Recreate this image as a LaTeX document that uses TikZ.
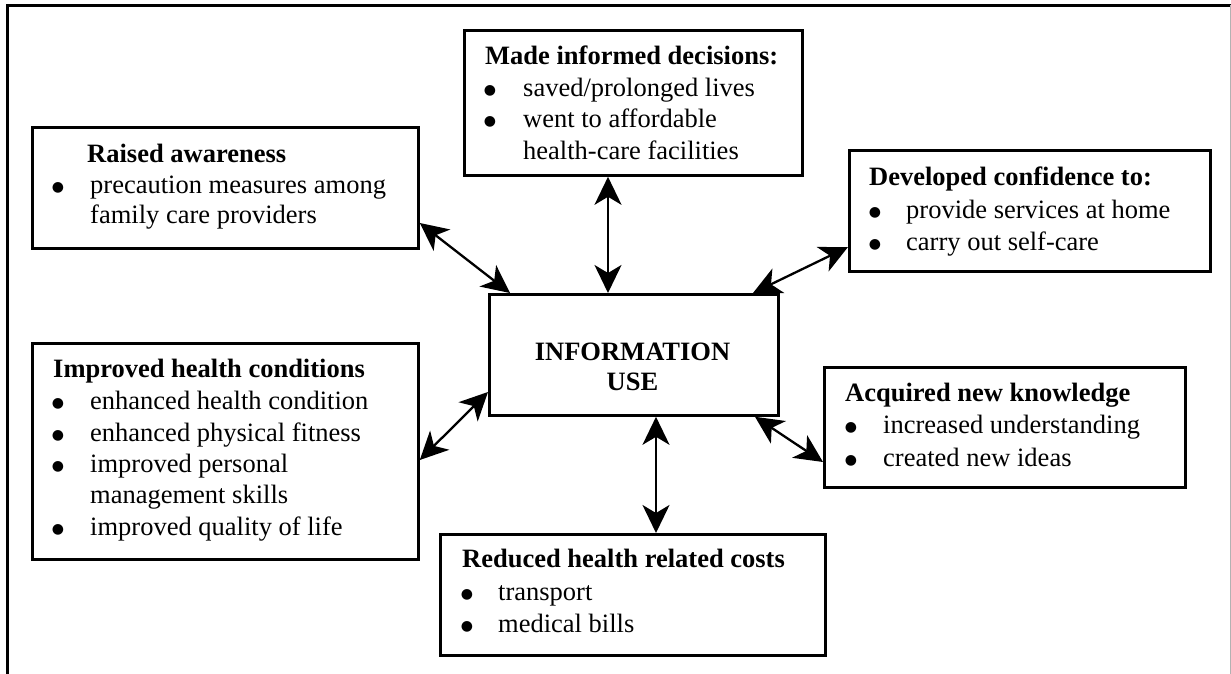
\documentclass[tikz,border=0pt]{standalone}
\usepackage{fontspec}
\setmainfont{Liberation Serif}
\newfontfamily\dejavu{DejaVu Sans}
\usetikzlibrary{arrows.meta,calc}
\newcommand{\bigbul}{{\dejavu\fontsize{14}{16}\selectfont ●}}
\begin{document}
\begin{tikzpicture}[x=1pt,y=-1pt,
  box/.style={draw,line width=2.8pt,inner sep=0pt,anchor=north west},
  tipx/.tip={Stealth[length=28pt,width=27pt,inset=8pt]},
  conn/.style={line width=2.3pt,tipx-tipx},
  txt/.style={anchor=base west,inner sep=0pt,font=\fontsize{26.5}{31}\selectfont},
  hd/.style={anchor=base west,inner sep=0pt,font=\fontsize{26.5}{31}\selectfont\bfseries},
  hdc/.style={anchor=base,inner sep=0pt,font=\fontsize{26.5}{31}\selectfont\bfseries},
  bul/.style={anchor=base,inner sep=0pt,yshift=2pt}]
\useasboundingbox (0,0) rectangle (1231,674);
% outer frame
\draw[line width=2.2pt] (7.5,674) -- (7.5,5.5) -- (1231,5.5);
\draw[line width=1pt,black!30] (1230,5.5) -- (1230,674);

% boxes
\node[box,minimum width=386,minimum height=121] (ra) at (31,126) {};
\node[box,minimum width=338,minimum height=145] (mi) at (463,29) {};
\node[box,minimum width=361,minimum height=121] (dc) at (848,149) {};
\node[box,minimum width=289,minimum height=121] (iu) at (488,293) {};
\node[box,minimum width=386,minimum height=216] (ih) at (31,342) {};
\node[box,minimum width=361,minimum height=120] (an) at (823,366) {};
\node[box,minimum width=385,minimum height=121] (rc) at (439,533) {};

% Raised awareness
\node[hd] (raT) at (87,162) {Raised awareness};
\node[bul] (raB1) at (58,193) {\bigbul};
\node[txt] (raL1) at (90,193) {precaution measures among};
\node[txt] (raL2) at (90,223) {family care providers};

% Made informed decisions
\node[hd] (miT) at (485,65) {Made informed decisions:};
\node[bul] (miB1) at (490,97) {\bigbul};
\node[bul] (miB2) at (490,128) {\bigbul};
\node[txt] (miL1) at (523,97) {saved/prolonged lives};
\node[txt] (miL2) at (523,128) {went to affordable};
\node[txt] (miL3) at (523,159) {health-care facilities};

% Developed confidence
\node[hd] (dcT) at (869,185) {Developed confidence to:};
\node[bul] (dcB1) at (875,218) {\bigbul};
\node[bul] (dcB2) at (875,250) {\bigbul};
\node[txt] (dcL1) at (906,218) {provide services at home};
\node[txt] (dcL2) at (906,250) {carry out self-care};

% Information use
\node[hdc] (iuT1) at (632.5,360) {INFORMATION};
\node[hdc] (iuT2) at (632.5,390) {USE};

% Improved health conditions
\node[hd] (ihT) at (53,377) {Improved health conditions};
\node[bul] (ihB1) at (58,409) {\bigbul};
\node[bul] (ihB2) at (58,441) {\bigbul};
\node[bul] (ihB3) at (58,472) {\bigbul};
\node[bul] (ihB4) at (58,535) {\bigbul};
\node[txt] (ihL1) at (90,409) {enhanced health condition};
\node[txt] (ihL2) at (90,441) {enhanced physical fitness};
\node[txt] (ihL3) at (90,472) {improved personal};
\node[txt] (ihL4) at (90,503) {management skills};
\node[txt] (ihL5) at (90,535) {improved quality of life};

% Acquired new knowledge
\node[hd] (anT) at (845,401) {Acquired new knowledge};
\node[bul] (anB1) at (851,433) {\bigbul};
\node[bul] (anB2) at (851,466) {\bigbul};
\node[txt] (anL1) at (883,433) {increased understanding};
\node[txt] (anL2) at (883,466) {created new ideas};

% Reduced health related costs
\node[hd] (rcT) at (462,567) {Reduced health related costs};
\node[bul] (rcB1) at (467,600) {\bigbul};
\node[bul] (rcB2) at (467,632) {\bigbul};
\node[txt] (rcL1) at (498,600) {transport};
\node[txt] (rcL2) at (498,632) {medical bills};

% connectors
\draw[conn] ($(ra.north east)+(0,97)$) -- ($(iu.north west)+(22,0)$);
\draw[conn] ($(mi.south west)+(145,0)$) -- ($(iu.north west)+(120,0)$);
\draw[conn] ($(dc.north west)+(0,98)$) -- ($(iu.north west)+(265,0)$);
\draw[conn] ($(ih.north east)+(0,118)$) -- ($(iu.north west)+(0,99)$);
\draw[conn] ($(iu.south west)+(168,0)$) -- ($(rc.north west)+(217,0)$);
\draw[conn] ($(iu.south west)+(267,0)$) -- ($(an.north west)+(0,96)$);
\end{tikzpicture}
\end{document}
